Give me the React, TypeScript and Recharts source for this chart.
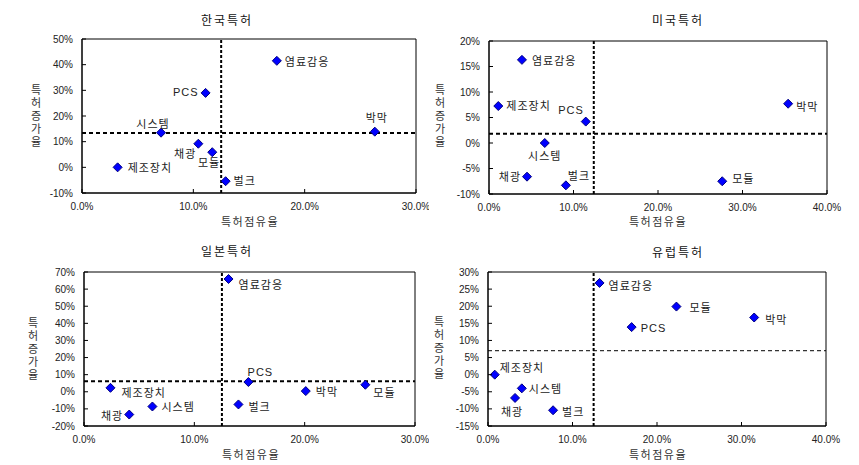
import React from "react";
import {
  ScatterChart,
  Scatter,
  XAxis,
  YAxis,
  ReferenceLine,
  ReferenceArea,
} from "recharts";

const categories = ["염료감응", "PCS", "시스템", "박막", "채광", "모듈", "제조장치", "벌크"];

const krShare = [17.5, 11.1, 7.1, 26.3, 10.45, 11.7, 3.2, 12.9];
const krGrowth = [41.5, 29.0, 13.5, 13.9, 9.2, 5.9, 0, -5.4];

const usShare = [3.9, 11.45, 6.6, 35.4, 4.5, 27.6, 1.1, 9.1];
const usGrowth = [16.3, 4.2, 0, 7.7, -6.6, -7.5, 7.25, -8.3];

const jpShare = [13.1, 14.9, 6.2, 20.1, 4.1, 25.5, 2.4, 14.0];
const jpGrowth = [65.9, 5.7, -8.6, 0.4, -13.3, 4.1, 2.3, -7.4];

const euShare = [13.2, 17.0, 4.0, 31.5, 3.2, 22.3, 0.8, 7.7];
const euGrowth = [26.8, 13.9, -4.0, 16.7, -6.8, 19.9, 0, -10.4];

// average lines (share / growth)
const krAvg = [12.5, 13.4];
const usAvg = [12.4, 1.8];
const jpAvg = [12.5, 6.2];
const euAvg = [12.5, 7.0];

const shareTicks30 = [0, 10, 20, 30];
const shareTicks40 = [0, 10, 20, 30, 40];
const krGrowthTicks = [-10, 0, 10, 20, 30, 40, 50];
const usGrowthTicks = [-10, -5, 0, 5, 10, 15, 20];
const jpGrowthTicks = [-20, -10, 0, 10, 20, 30, 40, 50, 60, 70];
const euGrowthTicks = [-15, -10, -5, 0, 5, 10, 15, 20, 25, 30];

// label placement per category: [dx, dy, anchor]
type Place = [number, number, "start" | "middle" | "end"];
const krPlace: Place[] = [[8, 0, "start"], [-7, -1, "end"], [-8, -10, "middle"], [2, -15, "middle"], [-2, 9, "end"], [8, 10, "end"], [10, 0, "start"], [8, -1, "start"]];
const usPlace: Place[] = [[10, 0, "start"], [-2, -12, "end"], [0, 12, "middle"], [8, 2, "start"], [-6, -1, "end"], [10, -3, "start"], [8, -1, "start"], [13, -10, "middle"]];
const jpPlace: Place[] = [[10, 5, "start"], [12, -10, "middle"], [9, 0, "start"], [10, 0, "start"], [-6, 0, "end"], [8, 7, "start"], [11, 4, "start"], [10, 2, "start"]];
const euPlace: Place[] = [[9, 2, "start"], [9, 1, "start"], [7, 0, "start"], [11, 1, "start"], [-3, 13, "middle"], [13, 0, "start"], [5, -8, "start"], [9, 1, "start"]];

const KR = "'Noto Sans CJK KR', sans-serif";
const LAT = "'Liberation Sans', Arial, sans-serif";
const Y_MARGIN = 9;
const X_MARGIN = 10;

const YTick = (props: any) => {
  const { x, y, payload } = props;
  const ax = x + Y_MARGIN;
  return (
    <g>
      <line x1={ax} x2={ax + 4} y1={y} y2={y} stroke="#000" />
      <text x={x} y={y} textAnchor="end" dominantBaseline="central" fontSize={10} fontFamily={LAT} fill="#222">
        {`${payload.value}%`}
      </text>
    </g>
  );
};

const XTick = (props: any) => {
  const { x, y, payload } = props;
  const ay = y - X_MARGIN;
  return (
    <g>
      <line x1={x} x2={x} y1={ay} y2={ay - 4} stroke="#000" />
      <text x={x} y={y} dy="0.72em" textAnchor="middle" fontSize={10} fontFamily={LAT} fill="#222">
        {`${payload.value.toFixed(1)}%`}
      </text>
    </g>
  );
};

interface PanelProps {
  left: number;
  top: number;
  title: string;
  share: number[];
  growth: number[];
  avg: number[];
  place: Place[];
  xTicks: number[];
  yTicks: number[];
  plot: { left: number; right: number; top: number; bottom: number };
  titleX: number;
  titleY: number;
  xLabelX: number;
  xLabelY: number;
  yLabelX: number;
  yLabelY: number;
  thinH?: boolean;
}

const W = 429;
const H = 230;

function Panel(p: PanelProps) {
  const data = categories.map((name, i) => ({ name, x: p.share[i], y: p.growth[i], i }));
  const xd: [number, number] = [p.xTicks[0], p.xTicks[p.xTicks.length - 1]];
  const yd: [number, number] = [p.yTicks[0], p.yTicks[p.yTicks.length - 1]];

  const shape = (s: any) => {
    const { cx, cy } = s;
    const idx = s.payload?.i ?? s.index ?? 0;
    const [dx, dy, anchor] = p.place[idx];
    const r = 4.5;
    return (
      <g>
        <polygon
          points={`${cx},${cy - r} ${cx + r},${cy} ${cx},${cy + r} ${cx - r},${cy}`}
          fill="#0000ff"
          stroke="#000080"
          strokeWidth={1}
        />
        <text
          x={cx + dx}
          y={cy + dy}
          textAnchor={anchor}
          dominantBaseline="central"
          fontSize={11}
          fontFamily={KR}
          letterSpacing={1}
          fill="#222"
        >
          {categories[idx] === "PCS" ? <tspan fontFamily={LAT}>PCS</tspan> : categories[idx]}
        </text>
      </g>
    );
  };

  return (
    <div style={{ position: "absolute", left: p.left, top: p.top, width: W, height: H }}>
      <ScatterChart
        width={W}
        height={H}
        margin={{ top: p.plot.top, right: W - p.plot.right, left: 0, bottom: 0 }}
      >
        <XAxis
          type="number"
          dataKey="x"
          domain={xd}
          ticks={p.xTicks}
          interval={0}
          height={H - p.plot.bottom}
          tickLine={false}
          tickSize={0}
          tickMargin={X_MARGIN}
          tick={<XTick />}
          axisLine={{ stroke: "#000" }}
          allowDataOverflow
        />
        <YAxis
          type="number"
          dataKey="y"
          domain={yd}
          ticks={p.yTicks}
          interval={0}
          width={p.plot.left}
          tickLine={false}
          tickSize={0}
          tickMargin={Y_MARGIN}
          tick={<YTick />}
          axisLine={{ stroke: "#000" }}
          allowDataOverflow
        />
        <ReferenceArea x1={xd[0]} x2={xd[1]} y1={yd[0]} y2={yd[1]} fill="none" fillOpacity={0} stroke="#000" strokeWidth={1} />
        <ReferenceLine x={p.avg[0]} stroke="#000" strokeWidth={2} strokeDasharray="3 2" />
        <ReferenceLine
          y={p.avg[1]}
          stroke="#000"
          strokeWidth={p.thinH ? 1 : 2}
          strokeDasharray="4 3"
        />
        <Scatter data={data} shape={shape} isAnimationActive={false} />
      </ScatterChart>
      <div
        style={{
          position: "absolute",
          left: p.titleX - 60,
          top: p.titleY - 8,
          width: 120,
          textAlign: "center",
          fontFamily: KR,
          fontSize: 12,
          letterSpacing: 2,
          color: "#111",
          lineHeight: "16px",
        }}
      >
        {p.title}
      </div>
      <div
        style={{
          position: "absolute",
          left: p.xLabelX - 60,
          top: p.xLabelY - 6,
          width: 120,
          textAlign: "center",
          fontFamily: KR,
          fontSize: 11,
          letterSpacing: 1.5,
          color: "#333",
          lineHeight: "12px",
        }}
      >
        {"특허점유율"}
      </div>
      <div
        style={{
          position: "absolute",
          left: p.yLabelX - 7,
          top: p.yLabelY - 6,
          width: 14,
          writingMode: "vertical-rl",
          textOrientation: "upright",
          fontFamily: KR,
          fontSize: 11,
          letterSpacing: 2,
          color: "#333",
          lineHeight: "14px",
        }}
      >
        {"특허증가율"}
      </div>
    </div>
  );
}

export default function App() {
  return (
    <div style={{ position: "absolute", left: 0, top: 0, width: 859, height: 465, background: "#fff" }}>
      <Panel
        left={0}
        top={0}
        title="한국특허"
        share={krShare}
        growth={krGrowth}
        avg={krAvg}
        place={krPlace}
        xTicks={shareTicks30}
        yTicks={krGrowthTicks}
        plot={{ left: 82, right: 416, top: 39, bottom: 193 }}
        titleX={227}
        titleY={20}
        xLabelX={250}
        xLabelY={221}
        yLabelX={36}
        yLabelY={90}
      />
      <Panel
        left={430}
        top={0}
        title="미국특허"
        share={usShare}
        growth={usGrowth}
        avg={usAvg}
        place={usPlace}
        xTicks={shareTicks40}
        yTicks={usGrowthTicks}
        plot={{ left: 59, right: 397, top: 41, bottom: 194 }}
        titleX={248}
        titleY={20}
        xLabelX={228}
        xLabelY={221}
        yLabelX={10}
        yLabelY={90}
      />
      <Panel
        left={0}
        top={235}
        title="일본특허"
        share={jpShare}
        growth={jpGrowth}
        avg={jpAvg}
        place={jpPlace}
        xTicks={shareTicks30}
        yTicks={jpGrowthTicks}
        plot={{ left: 84, right: 415, top: 37, bottom: 191 }}
        titleX={227}
        titleY={16}
        xLabelX={251}
        xLabelY={219}
        yLabelX={33}
        yLabelY={88}
      />
      <Panel
        left={430}
        top={235}
        title="유럽특허"
        share={euShare}
        growth={euGrowth}
        avg={euAvg}
        place={euPlace}
        xTicks={shareTicks40}
        yTicks={euGrowthTicks}
        plot={{ left: 58, right: 396, top: 37, bottom: 191 }}
        titleX={248}
        titleY={17}
        xLabelX={228}
        xLabelY={219}
        yLabelX={9}
        yLabelY={87}
        thinH
      />
    </div>
  );
}
